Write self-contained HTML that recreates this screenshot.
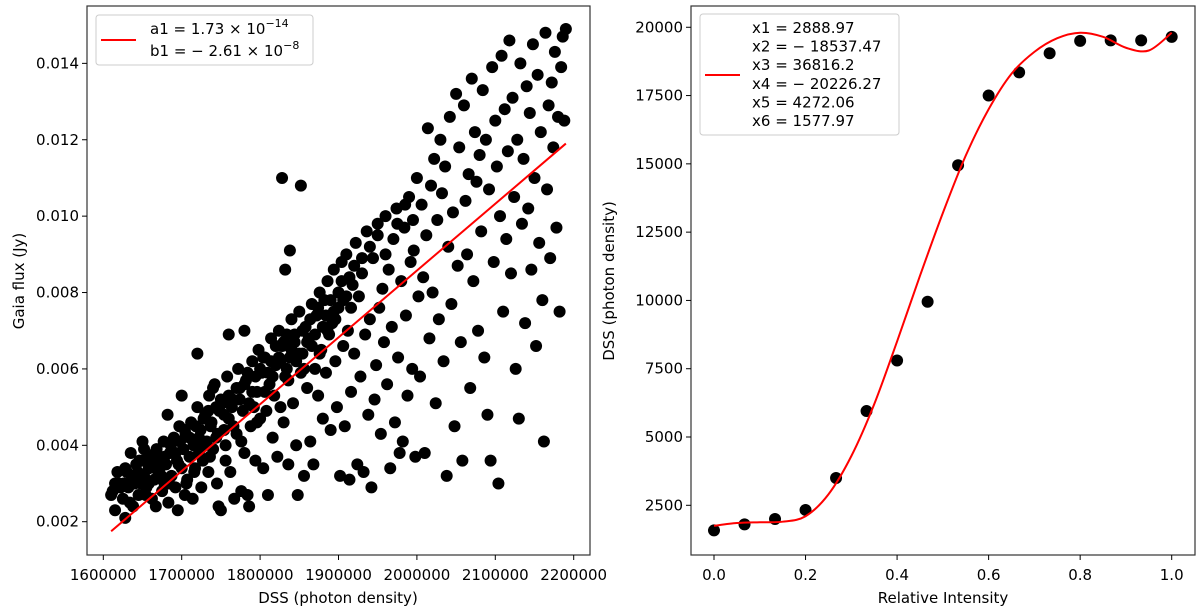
<!DOCTYPE html>
<html><head><meta charset="utf-8"><style>
html,body{margin:0;padding:0;background:#fff;}
svg{display:block;font-family:"DejaVu Sans","Liberation Sans",sans-serif;}
</style></head><body>
<svg id="fig" width="1200" height="613" viewBox="0 0 1200 613">
<rect x="0" y="0" width="1200" height="613" fill="#fff"/>
<g id="left"></g>
<g id="right"></g>
</svg>
<script>
// ---- Left chart data (DSS in thousands, Gaia flux in 1e-3 Jy) ----
const dssValues = [1612,1610,1615,1620,1625,1628,1630,1632,1635,1638,1640,1642,1645,1648,1650,1652,1655,1658,1660,1662,1665,1667,1668,1670,1672,1675,1677,1678,1680,1682,1683,1685,1687,1690,1692,1694,1695,1697,1700,1702,1704,1705,1707,1710,1712,1714,1715,1717,1720,1722,1724,1725,1727,1730,1732,1734,1735,1737,1740,1742,1744,1745,1747,1748,1750,1752,1754,1756,1758,1760,1762,1765,1767,1770,1772,1774,1776,1778,1780,1782,1784,1786,1788,1790,1792,1794,1796,1798,1800,1802,1804,1806,1808,1810,1812,1814,1816,1818,1820,1822,1824,1826,1828,1830,1832,1834,1836,1838,1840,1842,1844,1846,1848,1850,1852,1854,1856,1858,1860,1862,1864,1866,1868,1870,1872,1874,1876,1878,1880,1882,1884,1886,1888,1890,1892,1894,1896,1898,1900,1902,1904,1906,1908,1910,1912,1914,1916,1918,1920,1922,1924,1926,1928,1930,1932,1934,1936,1938,1940,1942,1944,1946,1948,1950,1952,1954,1956,1958,1960,1962,1964,1966,1968,1970,1972,1974,1976,1978,1980,1982,1984,1986,1988,1990,1992,1994,1996,1998,2000,2002,2004,2006,2008,2010,2012,2014,2016,2018,2020,2022,2024,2026,2028,2030,2032,2034,2036,2038,2040,2042,2044,2046,2048,2050,2052,2054,2056,2058,2060,2062,2064,2066,2068,2070,2072,2074,2076,2078,2080,2082,2084,2086,2088,2090,2092,2094,2096,2098,2100,2102,2104,2106,2108,2110,2112,2114,2116,2118,2120,2122,2124,2126,2128,2130,2132,2134,2136,2138,2140,2142,2144,2146,2148,2150,2152,2154,2156,2158,2160,2162,2164,2166,2168,2170,2172,2174,2176,2178,2180,2182,2184,2186,2188,2190,1828,1838,1852,1832,1760,1780,1650,1640,1700,1720,1740,1618,1626,1634,1644,1654,1664,1674,1684,1696,1706,1716,1726,1736,1746,1756,1766,1776,1786,1796,1806,1816,1826,1836,1846,1856,1866,1876,1886,1896,1906,1916,1615,1622,1628,1636,1646,1652,1658,1666,1672,1678,1686,1692,1698,1704,1710,1718,1722,1728,1734,1738,1744,1750,1754,1760,1764,1770,1774,1780,1784,1790,1794,1800,1804,1810,1814,1820,1824,1830,1834,1840,1844,1850,1854,1860,1864,1870,1874,1880,1884,1890,1894,1900,1904,1910,1914,1920,1930,1940,1950,1960,1975,1985,1995];
const gaiaFlux = [2.8,2.7,2.3,3.0,2.6,2.1,3.3,2.9,3.8,2.4,3.1,3.5,2.7,3.0,3.6,3.2,2.9,3.4,3.7,2.6,3.1,2.4,3.9,3.3,3.6,2.8,4.1,3.0,3.5,4.8,2.5,3.8,3.2,4.2,2.9,3.6,2.3,4.5,3.4,3.9,2.7,4.3,3.1,3.7,4.6,2.6,4.0,3.4,5.0,3.8,4.4,2.9,3.6,4.8,4.1,3.3,5.3,4.5,3.9,5.6,4.2,3.0,2.4,4.9,2.3,5.1,4.4,3.6,5.8,4.7,3.3,5.2,2.6,4.3,6.0,5.5,2.8,4.9,3.8,5.7,2.7,2.4,4.5,6.2,5.0,3.6,5.4,6.5,4.7,5.9,3.4,6.3,4.9,2.7,5.6,6.8,4.2,5.3,6.1,3.7,7.0,5.0,6.6,4.6,5.8,6.9,3.5,6.3,7.3,5.1,6.7,4.0,2.7,7.5,5.9,6.4,3.2,7.1,5.5,6.8,4.1,7.7,3.5,6.0,7.4,5.3,8.0,6.5,4.7,7.8,5.9,8.3,6.9,4.4,7.2,8.6,6.2,5.0,7.6,3.2,8.8,6.6,4.5,9.0,7.0,3.1,5.4,8.2,6.4,9.3,3.5,7.9,5.8,8.5,3.3,6.9,9.6,4.8,7.3,2.9,8.9,5.2,6.1,9.8,7.6,4.3,8.1,6.7,10.0,5.6,8.6,3.4,7.1,9.4,4.6,10.2,6.3,3.8,8.3,4.1,9.7,7.4,5.3,10.5,8.8,6.0,9.1,3.7,11.0,7.9,5.8,10.3,8.4,3.8,9.5,12.3,6.8,10.8,8.0,11.5,5.1,9.9,7.3,12.0,10.6,6.2,11.3,3.2,9.2,12.6,7.7,10.1,4.5,13.2,8.7,11.8,6.7,3.6,12.9,10.4,9.0,11.1,5.5,13.6,8.3,12.2,10.9,7.0,11.6,9.6,13.3,6.3,12.0,4.8,10.7,3.6,13.9,8.8,12.5,11.3,3.0,10.0,14.2,7.5,12.8,9.4,11.7,14.6,8.5,13.1,10.5,6.0,12.0,4.7,14.0,9.8,11.5,7.2,13.4,10.2,12.7,8.6,14.5,11.0,6.6,13.7,9.3,12.2,7.8,4.1,14.8,10.7,12.9,8.9,13.5,11.8,14.3,9.7,12.6,7.5,13.9,14.7,12.5,14.9,11.0,9.1,10.8,8.6,6.9,7.0,4.1,3.0,5.3,6.4,5.5,3.3,3.0,2.5,3.3,2.7,3.5,3.2,3.0,3.5,3.0,3.3,4.0,3.7,4.3,4.0,4.5,4.1,5.1,4.6,5.4,5.8,6.2,5.7,6.2,6.0,6.6,6.4,7.0,7.3,7.8,7.6,3.0,2.9,3.4,3.2,3.6,3.9,3.0,3.8,3.4,3.7,4.0,3.8,4.1,4.4,4.2,4.5,4.2,4.7,4.9,4.6,5.0,5.2,4.8,5.3,5.0,5.5,5.2,5.6,5.9,5.4,5.8,6.0,6.3,5.9,6.2,6.6,6.3,6.7,6.0,6.5,6.9,6.4,7.0,6.7,7.3,6.9,7.6,7.1,7.4,7.8,7.5,8.0,8.3,7.9,8.4,8.7,8.9,9.2,9.5,9.0,9.8,10.3,9.9];
const fitLineX = [1610, 2190];
const fitLineY = [1.75, 11.9];
const leftXTicks = [1600000,1700000,1800000,1900000,2000000,2100000,2200000];
const leftYTicks = [0.002,0.004,0.006,0.008,0.010,0.012,0.014];
const leftYTickLabels = ["0.002","0.004","0.006","0.008","0.010","0.012","0.014"];

// ---- Right chart data ----
const relIntensity = [0,0.0667,0.1333,0.2,0.2667,0.3333,0.4,0.4667,0.5333,0.6,0.6667,0.7333,0.8,0.8667,0.9333,1.0];
const dssMeasured = [1580,1800,2000,2330,3500,5950,7800,9950,14950,17500,18350,19050,19500,19520,19520,19650];
const curveX = [0,0.05,0.1,0.15,0.2,0.25,0.3,0.35,0.4,0.45,0.5,0.55,0.6,0.65,0.7,0.75,0.8,0.85,0.9,0.95,1.0];
const curveY = [1750,1850,1880,1900,2100,2900,4300,6200,8500,10900,13200,15300,17000,18300,19100,19600,19800,19650,19250,19150,19800];
const rightXTicks = [0,0.2,0.4,0.6,0.8,1.0];
const rightXTickLabels = ["0.0","0.2","0.4","0.6","0.8","1.0"];
const rightYTicks = [2500,5000,7500,10000,12500,15000,17500,20000];

const NS="http://www.w3.org/2000/svg";
function mk(parent,tag,attrs,text){const e=document.createElementNS(NS,tag);for(const k in attrs)e.setAttribute(k,attrs[k]);if(text!==undefined)e.textContent=text;parent.appendChild(e);return e;}

// Left axes
const L={x0:87,x1:590,y0:6,y1:555};
const lx=v=>103.3+(v-1600000)*78.4/100000;
const ly=v=>521.7-(v-0.002)*38195;
const lg=document.getElementById('left');
for(let i=0;i<dssValues.length;i++){
  const c=mk(lg,'circle',{cx:lx(dssValues[i]*1000),cy:ly(gaiaFlux[i]/1000),r:6,fill:'#000'});
  
  
}
const fl=mk(lg,'line',{x1:lx(fitLineX[0]*1000),y1:ly(fitLineY[0]/1000),x2:lx(fitLineX[1]*1000),y2:ly(fitLineY[1]/1000),stroke:'#ff0000','stroke-width':2});


const lf=mk(lg,'rect',{x:L.x0,y:L.y0,width:L.x1-L.x0,height:L.y1-L.y0,fill:'none',stroke:'#333','stroke-width':1.2});


leftXTicks.forEach(t=>{const x=lx(t);mk(lg,'line',{x1:x,y1:L.y1,x2:x,y2:L.y1+5,stroke:'#000'});
  const tl=mk(lg,'text',{x:x,y:L.y1+25,'text-anchor':'middle','font-size':15},String(t));
  
  });
leftYTicks.forEach((t,i)=>{const y=ly(t);mk(lg,'line',{x1:L.x0-5,y1:y,x2:L.x0,y2:y,stroke:'#000'});
  const tl=mk(lg,'text',{x:L.x0-8,y:y+5,'text-anchor':'end','font-size':15},leftYTickLabels[i]);
  
  });
const lxt=mk(lg,'text',{x:338,y:603,'text-anchor':'middle','font-size':15},'DSS (photon density)');


const lyt=mk(lg,'text',{x:0,y:0,'text-anchor':'middle','font-size':15,transform:'translate(24,281) rotate(-90)'},'Gaia flux (Jy)');


const leg=mk(lg,'g',{});


mk(leg,'rect',{x:96,y:15,width:217,height:50,rx:3,fill:'#fff','fill-opacity':0.8,stroke:'#ccc'});
mk(leg,'line',{x1:101,y1:40,x2:136,y2:40,stroke:'#ff0000','stroke-width':2});
const t1=mk(leg,'text',{x:150,y:34,'font-size':15});
t1.innerHTML='a1 = 1.73 × 10<tspan dy="-7" font-size="11">−14</tspan>';
const t2=mk(leg,'text',{x:150,y:56,'font-size':15});
t2.innerHTML='b1 = − 2.61 × 10<tspan dy="-7" font-size="11">−8</tspan>';

// Right axes
const R={x0:691,x1:1195,y0:6,y1:555};
const rx=v=>714+v*457.7;
const ry=v=>505.3-(v-2500)*68.29/2500;
const rg=document.getElementById('right');
let d='';
const px=curveX.map(rx), py=curveY.map(ry);
d+='M'+px[0]+','+py[0];
for(let i=0;i<px.length-1;i++){
  const p0=i>0?i-1:i,p3=i+2<px.length?i+2:i+1;
  const c1x=px[i]+(px[i+1]-px[p0])/6,c1y=py[i]+(py[i+1]-py[p0])/6;
  const c2x=px[i+1]-(px[p3]-px[i])/6,c2y=py[i+1]-(py[p3]-py[i])/6;
  d+=' C'+c1x+','+c1y+' '+c2x+','+c2y+' '+px[i+1]+','+py[i+1];
}
relIntensity.forEach((v,i)=>{
  const c=mk(rg,'circle',{cx:rx(v),cy:ry(dssMeasured[i]),r:6,fill:'#000'});
  
  
});
const cp=mk(rg,'path',{d:d,fill:'none',stroke:'#ff0000','stroke-width':2});


const rf=mk(rg,'rect',{x:R.x0,y:R.y0,width:R.x1-R.x0,height:R.y1-R.y0,fill:'none',stroke:'#333','stroke-width':1.2});


rightXTicks.forEach((t,i)=>{const x=rx(t);mk(rg,'line',{x1:x,y1:R.y1,x2:x,y2:R.y1+5,stroke:'#000'});
  const tl=mk(rg,'text',{x:x,y:R.y1+25,'text-anchor':'middle','font-size':15},rightXTickLabels[i]);
  
  });
rightYTicks.forEach(t=>{const y=ry(t);mk(rg,'line',{x1:R.x0-5,y1:y,x2:R.x0,y2:y,stroke:'#000'});
  const tl=mk(rg,'text',{x:R.x0-8,y:y+5,'text-anchor':'end','font-size':15},String(t));
  
  });
const rxt=mk(rg,'text',{x:943,y:603,'text-anchor':'middle','font-size':15},'Relative Intensity');


const ryt=mk(rg,'text',{x:0,y:0,'text-anchor':'middle','font-size':15,transform:'translate(614,281) rotate(-90)'},'DSS (photon density)');


const leg2=mk(rg,'g',{});


mk(leg2,'rect',{x:700,y:14,width:199,height:121,rx:3,fill:'#fff','fill-opacity':0.8,stroke:'#ccc'});
mk(leg2,'line',{x1:705,y1:75,x2:740,y2:75,stroke:'#ff0000','stroke-width':2});
["x1 = 2888.97","x2 = − 18537.47","x3 = 36816.2","x4 = − 20226.27","x5 = 4272.06","x6 = 1577.97"].forEach((s,i)=>{
  mk(leg2,'text',{x:752,y:33+i*18.6,'font-size':15},s);
});
</script>
</body></html>
